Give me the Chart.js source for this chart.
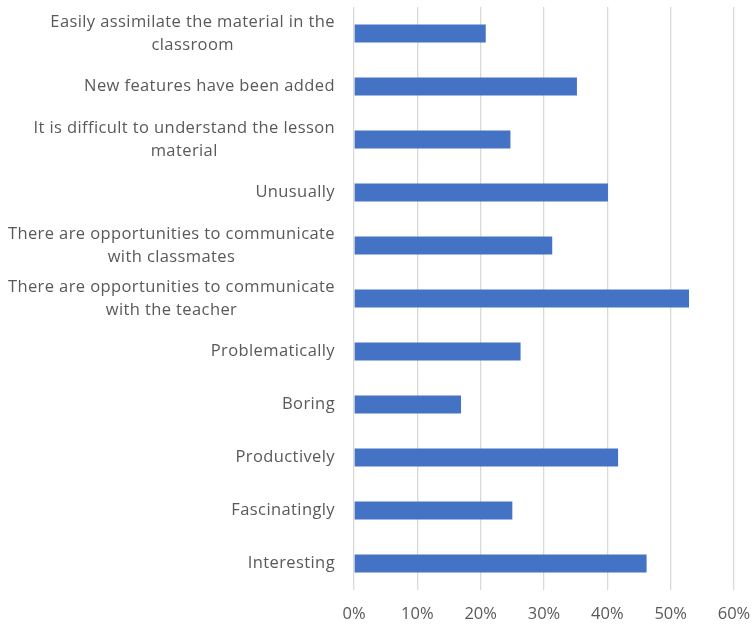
<!DOCTYPE html>
<html>
<head>
<meta charset="utf-8">
<script src="https://cdn.jsdelivr.net/npm/chart.js@4.4.0/dist/chart.umd.min.js"></script>
<style>
  html, body { margin: 0; padding: 0; background: #fff; }
  #wrap { position: relative; width: 753px; height: 627px; }
</style>
</head>
<body>
<div id="wrap"><canvas id="chart" width="753" height="627"></canvas></div>
<script>
const categories = [
  ["Easily assimilate the material in the", "classroom"],
  ["New features have been added"],
  ["It is difficult to understand the lesson", "material"],
  ["Unusually"],
  ["There are opportunities to communicate", "with classmates"],
  ["There are opportunities to communicate", "with the teacher"],
  ["Problematically"],
  ["Boring"],
  ["Productively"],
  ["Fascinatingly"],
  ["Interesting"]
];
const shares = [20.8, 35.2, 24.7, 40.1, 31.3, 52.9, 26.3, 16.9, 41.7, 25.0, 46.2];
const tickValues = [0, 10, 20, 30, 40, 50, 60];

const FONT = "'Open Sans', sans-serif";
const TEXT = "#595959";

// category labels: block right-aligned to the axis, lines centred inside the block
const catLabels = {
  id: "catLabels",
  afterDraw(chart) {
    const y = chart.scales.y;
    const ctx = chart.ctx;
    const right = y.right - 19;
    const lineH = 23;
    ctx.save();
    ctx.font = "16.5px " + FONT;
    ctx.letterSpacing = "0.4px";
    ctx.fillStyle = TEXT;
    ctx.textAlign = "center";
    ctx.textBaseline = "middle";
    categories.forEach((lines, i) => {
      const cy = y.getPixelForTick(i);
      const widest = Math.max(...lines.map(l => ctx.measureText(l).width));
      const cx = right - widest / 2;
      const top = cy - (lines.length - 1) * lineH / 2;
      lines.forEach((l, k) => ctx.fillText(l, cx, top + k * lineH));
    });
    ctx.restore();
  }
};

new Chart(document.getElementById("chart"), {
  type: "bar",
  data: {
    labels: categories.map(c => c.join(" ")),
    datasets: [{
      data: shares,
      backgroundColor: "#4472C4",
      borderWidth: 0,
      barPercentage: 0.68,
      categoryPercentage: 0.5
    }]
  },
  options: {
    indexAxis: "y",
    responsive: false,
    animation: false,
    layout: { padding: { top: 7, right: 19, bottom: 0, left: 0 } },
    plugins: { legend: { display: false }, tooltip: { enabled: false } },
    scales: {
      x: {
        min: 0,
        max: 60,
        afterBuildTicks(scale) { scale.ticks = tickValues.map(v => ({ value: v })); },
        grid: { color: "#D9D9D9", lineWidth: 1.3, drawTicks: false },
        border: { display: false },
        ticks: {
          padding: 14,
          maxRotation: 0,
          color: TEXT,
          font: { family: FONT, size: 16.5 },
          callback: v => v + "%"
        },
        afterFit(scale) {
          scale.height = 37;
          scale.paddingLeft = 0;
          scale.paddingRight = 0;
        }
      },
      y: {
        grid: { display: false },
        border: { display: false },
        ticks: { display: false },
        afterFit(scale) { scale.width = 354; }
      }
    }
  },
  plugins: [catLabels]
});
</script>
</body>
</html>
